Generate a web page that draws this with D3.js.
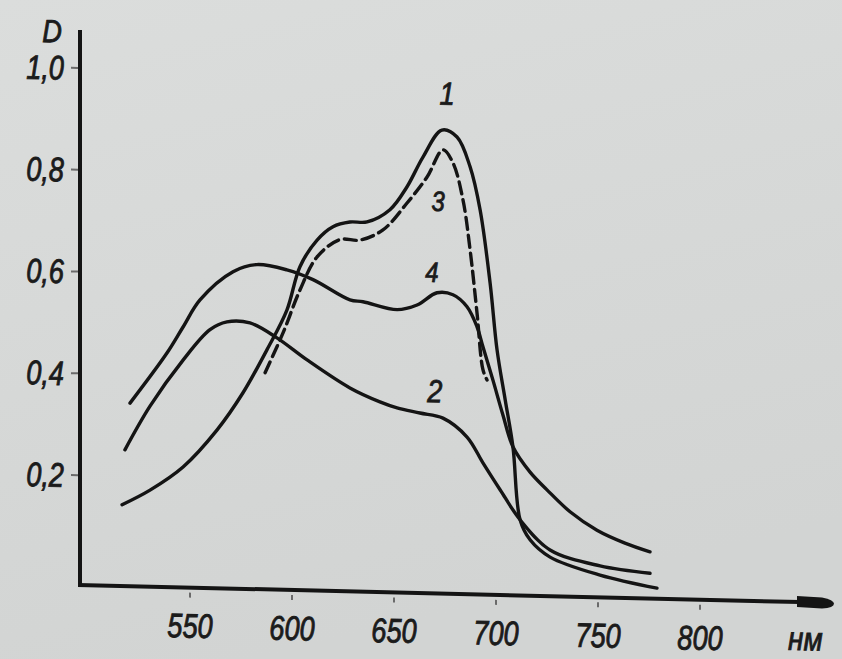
<!DOCTYPE html>
<html>
<head>
<meta charset="utf-8">
<script src="https://cdn.jsdelivr.net/npm/d3@7/dist/d3.min.js"></script>
<style>
  html, body { margin: 0; padding: 0; background: #d8dad9; }
  svg { display: block; }
  .lbl { font-family: "Liberation Sans", Arial, sans-serif; font-style: italic; fill: #1b1b1b;
         stroke: #1b1b1b; stroke-width: 0.9px; paint-order: stroke; }
</style>
</head>
<body>
<svg id="chart" width="842" height="659"></svg>
<script>
// Absorption spectra: wavelength (nm) against optical density D
const wavelengthTicks = [550, 600, 650, 700, 750, 800];
const densityTicks = [0.2, 0.4, 0.6, 0.8, 1.0];
const curveNames = ["1", "2", "3", "4"];

const curve1 = [
  [516.7, 0.144], [530.4, 0.174], [546.6, 0.221], [563.2, 0.295], [575.9, 0.369],
  [587.7, 0.455], [597.5, 0.534], [603.9, 0.620], [612.3, 0.673], [620.1, 0.700],
  [628.4, 0.710], [636.8, 0.711], [648.0, 0.736], [656.4, 0.782], [664.2, 0.841],
  [673.5, 0.895], [680.9, 0.882], [687.3, 0.824], [692.2, 0.740], [697.1, 0.597],
  [700.5, 0.466], [704.5, 0.368], [708.3, 0.276], [711.8, 0.133], [716.7, 0.094],
  [726.5, 0.061], [751.0, 0.028], [778.9, 0.005]
];
const curve2 = [
  [518.1, 0.252], [530.4, 0.339], [546.6, 0.431], [559.8, 0.492], [568.1, 0.508],
  [579.4, 0.507], [592.6, 0.479], [607.4, 0.437], [628.4, 0.384], [643.1, 0.358],
  [651.5, 0.347], [662.7, 0.338], [674.0, 0.329], [685.8, 0.293], [693.6, 0.243],
  [702.0, 0.191], [711.8, 0.133], [726.5, 0.075], [751.0, 0.046], [775.5, 0.034]
];
const curve3 = [
  [586.8, 0.410], [595.6, 0.489], [603.9, 0.574], [612.3, 0.640], [623.5, 0.675],
  [633.3, 0.675], [644.6, 0.696], [656.4, 0.750], [666.2, 0.802], [674.0, 0.856],
  [678.9, 0.831], [683.8, 0.759], [687.3, 0.661], [690.7, 0.537], [693.6, 0.426],
  [695.6, 0.406]
];
const curve4 = [
  [520.6, 0.344], [538.7, 0.444], [546.6, 0.496], [554.9, 0.550], [571.1, 0.607],
  [582.8, 0.622], [597.5, 0.613], [610.3, 0.595], [628.4, 0.557], [634.8, 0.554],
  [651.5, 0.540], [661.3, 0.550], [671.1, 0.575], [678.9, 0.572], [685.8, 0.549],
  [690.7, 0.510], [693.6, 0.471], [698.5, 0.406], [703.4, 0.338], [708.3, 0.276],
  [716.7, 0.227], [725.0, 0.193], [736.3, 0.151], [749.5, 0.116], [763.2, 0.092],
  [775.5, 0.076]
];
// label anchor (baseline) per curve: [nm, D]
const curveLabelPos = [[676, 0.945], [670, 0.360], [671.6, 0.736], [668.6, 0.596]];

const svg = d3.select("#chart");
const W = 842, H = 659;

// paper background
const defs = svg.append("defs");
const grad = defs.append("linearGradient").attr("id", "paper")
  .attr("x1", 0).attr("y1", 0).attr("x2", 0.3).attr("y2", 1);
grad.append("stop").attr("offset", "0%").attr("stop-color", "#dbdddc");
grad.append("stop").attr("offset", "100%").attr("stop-color", "#d2d4d3");
svg.append("rect").attr("width", W).attr("height", H).attr("fill", "url(#paper)");

const x = d3.scaleLinear().domain([550, 800]).range([190, 700]);
const y = d3.scaleLinear().domain([0, 1]).range([577, 68]);

// the printed sheet is slightly sheared: the baseline drops toward the right
const shear = 0.0237, originX = 80;
const g = svg.append("g")
  .attr("transform", `matrix(1,${shear},0,1,0,${-shear * originX})`);

const ink = "#141414";
const axisY = 585;

// vertical axis
g.append("line").attr("x1", originX).attr("x2", originX)
  .attr("y1", 30).attr("y2", axisY + 2)
  .attr("stroke", ink).attr("stroke-width", 4);
// horizontal axis
g.append("line").attr("x1", originX - 2).attr("x2", 800)
  .attr("y1", axisY).attr("y2", axisY)
  .attr("stroke", ink).attr("stroke-width", 4);
// arrow at the end of the wavelength axis
g.append("path")
  .attr("d", `M797,${axisY - 6} L822,${axisY - 5} Q834,${axisY - 3} 834,${axisY + 1} Q834,${axisY + 5} 822,${axisY + 6} L797,${axisY + 5} Z`)
  .attr("fill", ink);

const fmt = d3.formatLocale({ decimal: ",", thousands: " ", grouping: [3], currency: ["", ""] }).format(".1f");

// y ticks and labels
densityTicks.forEach(v => {
  g.append("line").attr("x1", originX - 9).attr("x2", originX - 2)
    .attr("y1", y(v)).attr("y2", y(v))
    .attr("stroke", "#6a6a6a").attr("stroke-width", 2);
  g.append("text").attr("class", "lbl")
    .attr("transform", `translate(${originX - 16},${y(v) + 12}) scale(0.8,1)`)
    .attr("text-anchor", "end").attr("font-size", 34)
    .text(fmt(v));
});
g.append("text").attr("class", "lbl")
  .attr("transform", `translate(52,43) scale(0.85,1)`)
  .attr("text-anchor", "middle").attr("font-size", 32)
  .text("D");

// x ticks and labels
wavelengthTicks.forEach(v => {
  g.append("line").attr("x1", x(v)).attr("x2", x(v))
    .attr("y1", axisY + 5).attr("y2", axisY + 10)
    .attr("stroke", "#6a6a6a").attr("stroke-width", 2);
  g.append("text").attr("class", "lbl")
    .attr("transform", `translate(${x(v)},${axisY + 50}) scale(0.8,1)`)
    .attr("text-anchor", "middle").attr("font-size", 34)
    .text(v);
});
g.append("text").attr("class", "lbl")
  .attr("transform", `translate(788,${axisY + 48}) scale(0.85,1)`)
  .attr("font-size", 33)
  .text("нм");

// spectra
const line = d3.line()
  .x(d => x(d[0])).y(d => y(d[1]))
  .curve(d3.curveCatmullRom.alpha(0.5));

const series = [curve1, curve2, curve3, curve4];
series.forEach((data, i) => {
  g.append("path").datum(data)
    .attr("d", line)
    .attr("fill", "none")
    .attr("stroke", ink)
    .attr("stroke-width", 3.4)
    .attr("stroke-linecap", "round")
    .attr("stroke-linejoin", "round")
    .attr("stroke-dasharray", i === 2 ? "12,6" : null);
});

// curve numbers
curveNames.forEach((name, i) => {
  const p = curveLabelPos[i];
  g.append("text").attr("class", "lbl")
    .attr("transform", `translate(${x(p[0])},${y(p[1])}) scale(0.85,1)`)
    .attr("text-anchor", "middle").attr("font-size", i === 2 || i === 3 ? 28 : 32)
    .text(name);
});
</script>
</body>
</html>
